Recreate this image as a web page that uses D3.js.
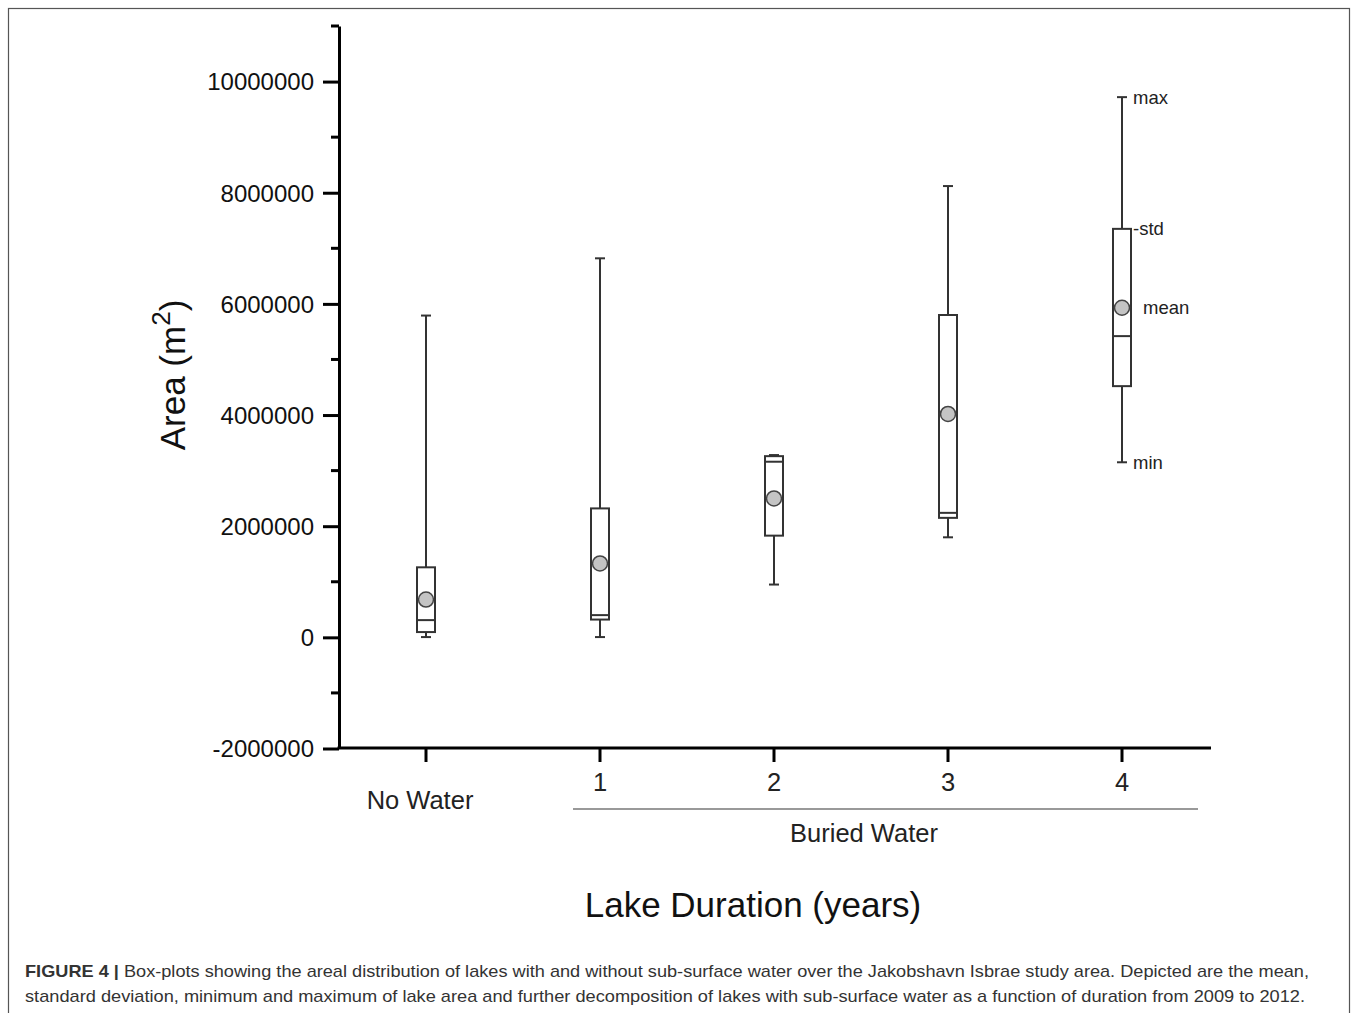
<!DOCTYPE html>
<html>
<head>
<meta charset="utf-8">
<script src="https://cdn.jsdelivr.net/npm/d3@7"></script>
<style>
  body { margin: 0; background: #fff; }
  svg { display: block; font-family: Arial, "Liberation Sans", sans-serif; }
</style>
</head>
<body>
<svg id="chart"></svg>
<script>
// categories and box-plot stats (m^2)
const categories = ["No Water", "1", "2", "3", "4"];
const maxVals    = [5790000, 6820000, 3280000, 8120000, 9720000];
const stdTop     = [1260000, 2320000, 3260000, 5800000, 7350000];
const medianVals = [310000, 400000, 3160000, 2240000, 5420000];
const stdBottom  = [95000, 320000, 1830000, 2150000, 4520000];
const minVals    = [5000, 5000, 950000, 1800000, 3150000];
const meanVals   = [680000, 1330000, 2500000, 4020000, 5930000];
const yTicks = [-2000000, 0, 2000000, 4000000, 6000000, 8000000, 10000000];
const yMinorTicks = d3.range(-1000000, 11000001, 2000000);

const W = 1358, H = 1013;
const svg = d3.select("#chart").attr("width", W).attr("height", H);

// frame around the figure
svg.append("rect")
    .attr("x", 8.5).attr("y", 8.5)
    .attr("width", 1341).attr("height", 1010)
    .attr("fill", "none").attr("stroke", "#555").attr("stroke-width", 1.2);

const x = d3.scaleBand().domain(categories).range([339, 1209]).padding(0);
const y = d3.scaleLinear().domain([-2000000, 11000000]).range([748.5, 26]);

const data = categories.map((c, i) => ({
    cat: c, max: maxVals[i], hi: stdTop[i], med: medianVals[i],
    lo: stdBottom[i], min: minVals[i], mean: meanVals[i]
}));

// y axis
const yAxis = svg.append("g").attr("transform", "translate(339,0)")
    .call(d3.axisLeft(y).tickValues(yTicks).tickSize(16).tickSizeOuter(0)
        .tickFormat(d => String(d)));
yAxis.select(".domain").attr("stroke", "#000").attr("stroke-width", 3);
yAxis.selectAll(".tick line").attr("stroke", "#000").attr("stroke-width", 3);
yAxis.selectAll(".tick text").attr("font-size", 24).attr("fill", "#111")
    .attr("x", -25).attr("dy", "0.35em");
yAxis.selectAll(".minor").data(yMinorTicks).enter().append("line")
    .attr("x1", -8).attr("x2", 0)
    .attr("y1", d => y(d)).attr("y2", d => y(d))
    .attr("stroke", "#000").attr("stroke-width", 3);

// x axis
const xAxis = svg.append("g").attr("transform", "translate(0,748)")
    .call(d3.axisBottom(x).tickSize(14).tickSizeOuter(0).tickFormat(""));
xAxis.select(".domain").attr("stroke", "#000").attr("stroke-width", 3)
    .attr("d", "M337.5,0H1211");
xAxis.selectAll(".tick line").attr("stroke", "#000").attr("stroke-width", 3);

// category labels
svg.selectAll(".catlabel").data(categories).enter().append("text")
    .attr("x", d => x(d) + x.bandwidth() / 2 + (d === "No Water" ? -6 : 0))
    .attr("y", d => d === "No Water" ? 809 : 791)
    .attr("text-anchor", "middle")
    .attr("font-size", 25.5).attr("fill", "#222")
    .text(d => d);

// buried water bracket
svg.append("line")
    .attr("x1", 573).attr("x2", 1198).attr("y1", 809).attr("y2", 809)
    .attr("stroke", "#777").attr("stroke-width", 1.5);
svg.append("text").attr("x", 864).attr("y", 842)
    .attr("text-anchor", "middle").attr("font-size", 25.5).attr("fill", "#222")
    .text("Buried Water");

// axis titles
svg.append("text").attr("x", 753).attr("y", 917)
    .attr("text-anchor", "middle").attr("font-size", 35).attr("fill", "#111")
    .text("Lake Duration (years)");
const yt = svg.append("text")
    .attr("transform", "translate(185,375) rotate(-90)")
    .attr("text-anchor", "middle").attr("font-size", 35).attr("fill", "#111");
yt.append("tspan").text("Area (m");
yt.append("tspan").attr("dy", -15).attr("font-size", 26).text("2");
yt.append("tspan").attr("dy", 15).text(")");

// boxes
const bw = 18, cap = 10;
const g = svg.selectAll(".box").data(data).enter().append("g")
    .attr("transform", d => `translate(${x(d.cat) + x.bandwidth() / 2},0)`);
const stroke = "#333";
g.append("line").attr("y1", d => y(d.max)).attr("y2", d => y(d.hi))
    .attr("stroke", stroke).attr("stroke-width", 2);
g.append("line").attr("y1", d => y(d.lo)).attr("y2", d => y(d.min))
    .attr("stroke", stroke).attr("stroke-width", 2);
g.append("line").attr("x1", -cap / 2).attr("x2", cap / 2)
    .attr("y1", d => y(d.max)).attr("y2", d => y(d.max))
    .attr("stroke", stroke).attr("stroke-width", 2);
g.append("line").attr("x1", -cap / 2).attr("x2", cap / 2)
    .attr("y1", d => y(d.min)).attr("y2", d => y(d.min))
    .attr("stroke", stroke).attr("stroke-width", 2);
g.append("rect").attr("x", -bw / 2).attr("width", bw)
    .attr("y", d => y(d.hi)).attr("height", d => y(d.lo) - y(d.hi))
    .attr("fill", "#fff").attr("stroke", stroke).attr("stroke-width", 2);
g.append("line").attr("x1", -bw / 2).attr("x2", bw / 2)
    .attr("y1", d => y(d.med)).attr("y2", d => y(d.med))
    .attr("stroke", stroke).attr("stroke-width", 2);
g.append("circle").attr("r", 7.5).attr("cy", d => y(d.mean))
    .attr("fill", "#c4c4c4").attr("stroke", "#444").attr("stroke-width", 1.5);

// legend labels on the last box
const last = data[data.length - 1];
const lx = x(last.cat) + x.bandwidth() / 2;
const ann = [
    { t: "max", v: last.max, dx: 11 },
    { t: "-std", v: last.hi, dx: 11 },
    { t: "mean", v: last.mean, dx: 21 },
    { t: "min", v: last.min, dx: 11 }
];
svg.selectAll(".ann").data(ann).enter().append("text")
    .attr("x", d => lx + d.dx).attr("y", d => y(d.v))
    .attr("dy", "0.35em").attr("font-size", 18.5).attr("fill", "#222")
    .text(d => d.t);

// caption
const cap1 = svg.append("text").attr("x", 25).attr("y", 977)
    .attr("font-size", 17).attr("fill", "#333")
    .attr("textLength", 1284).attr("lengthAdjust", "spacingAndGlyphs");
cap1.append("tspan").attr("font-weight", "bold").text("FIGURE 4 | ");
cap1.append("tspan").text("Box-plots showing the areal distribution of lakes with and without sub-surface water over the Jakobshavn Isbrae study area. Depicted are the mean,");
svg.append("text").attr("x", 25).attr("y", 1002)
    .attr("font-size", 17).attr("fill", "#333")
    .attr("textLength", 1280).attr("lengthAdjust", "spacingAndGlyphs")
    .text("standard deviation, minimum and maximum of lake area and further decomposition of lakes with sub-surface water as a function of duration from 2009 to 2012.");
</script>
</body>
</html>
